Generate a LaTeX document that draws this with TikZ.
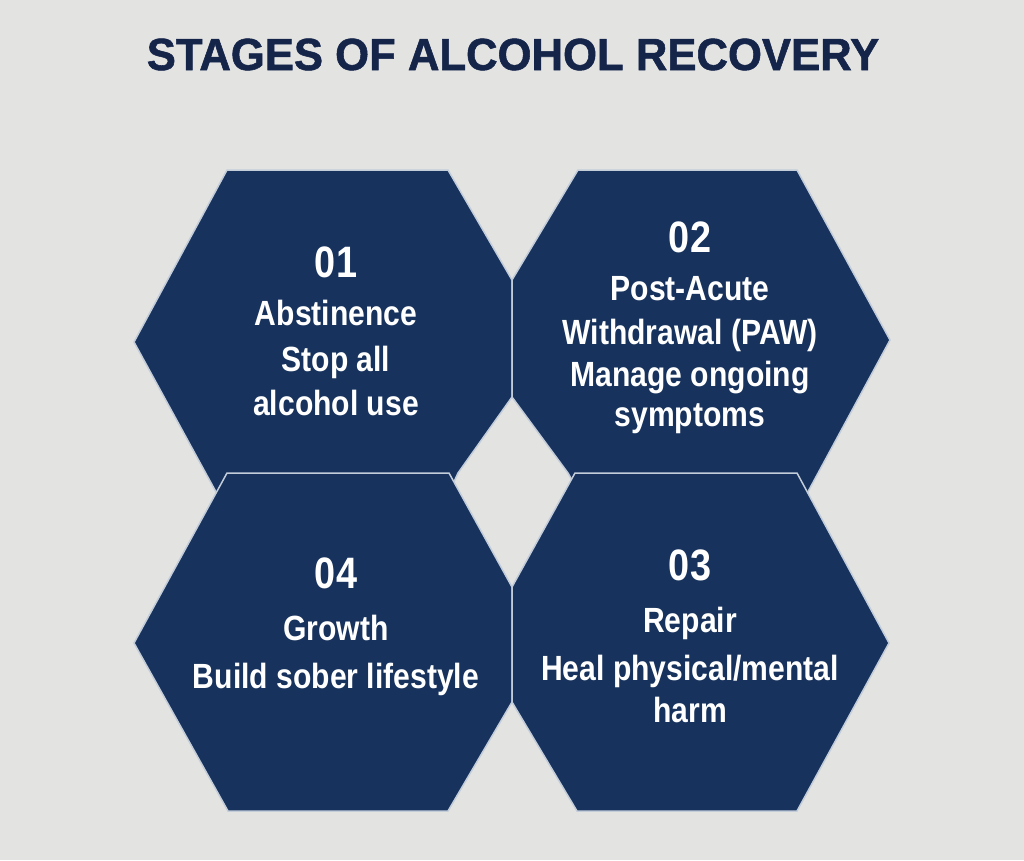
\documentclass[tikz,border=0pt]{standalone}
\usepackage{fontspec}
\setmainfont{Liberation Sans}[FakeStretch=0.86]
\newfontfamily\titlefont{Liberation Sans}[FakeBold=1.2, FakeStretch=0.97]
\definecolor{bg}{HTML}{E3E3E2}
\definecolor{navy}{HTML}{17325C}
\definecolor{titlenavy}{HTML}{15254A}
\definecolor{hexline}{HTML}{C3CDDA}
\tikzset{
  hexa/.style={fill=navy, draw=hexline, line width=1.5pt, line join=miter},
  numtxt/.style={anchor=base, text=white, inner sep=0pt, font=\fontsize{44}{50}\selectfont\bfseries},
  bodytxt/.style={anchor=base, text=white, inner sep=0pt, font=\fontsize{35}{44}\selectfont\bfseries},
}
\begin{document}
\begin{tikzpicture}[x=1pt, y=-1pt]
\fill[bg] (0,0) rectangle (1024,860);
\useasboundingbox (0,0) rectangle (1024,860);
% title
\node[anchor=base, text=titlenavy, inner sep=0pt, font=\titlefont\fontsize{45}{50}\selectfont\bfseries] (title) at (513,70) {STAGES OF ALCOHOL RECOVERY};
% top hexagons
\draw[hexa] (512,280) -- (448,170) -- (227,170) -- (134,342) -- (227,512) -- (440,512) -- (458,473) -- (512,397) -- cycle;
\draw[hexa] (512,280) -- (578,170) -- (797,170) -- (890,340) -- (797,512) -- (590,512) -- (568,473) -- (512,397) -- cycle;
% bottom hexagons
\draw[hexa] (227,473) -- (449,473) -- (512,587) -- (512,702) -- (448,811) -- (228,811) -- (134,643) -- cycle;
\draw[hexa] (575,473) -- (797,473) -- (889,643) -- (797,811) -- (577,811) -- (512,702) -- (512,587) -- cycle;
% texts
\node[numtxt] (n1) at (336,277) {01};
\node[bodytxt] (t1a) at (336,325) {Abstinence};
\node[bodytxt] (t1b) at (336,371) {Stop all};
\node[bodytxt] (t1c) at (336,415) {alcohol use};

\node[numtxt] (n2) at (690,252) {02};
\node[bodytxt] (t2a) at (690,300) {Post-Acute};
\node[bodytxt] (t2b) at (690,344) {Withdrawal (PAW)};
\node[bodytxt] (t2c) at (690,386) {Manage ongoing};
\node[bodytxt] (t2d) at (690,426) {symptoms};

\node[numtxt] (n4) at (336,588) {04};
\node[bodytxt] (t4a) at (336,640) {Growth};
\node[bodytxt] (t4b) at (336,688) {Build sober lifestyle};

\node[numtxt] (n3) at (690,580) {03};
\node[bodytxt] (t3a) at (690,632) {Repair};
\node[bodytxt] (t3b) at (690,680) {Heal physical/mental};
\node[bodytxt] (t3c) at (690,722) {harm};
\end{tikzpicture}
\end{document}
